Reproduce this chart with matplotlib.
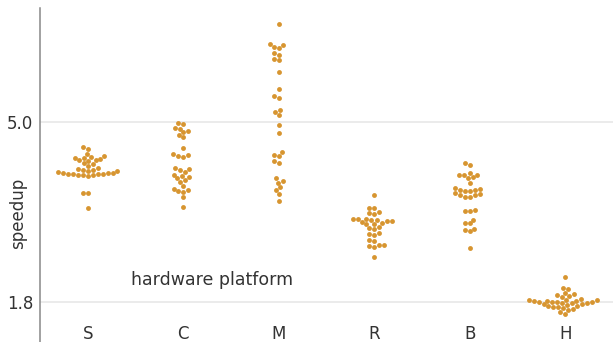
import matplotlib
matplotlib.use("Agg")
import matplotlib.pyplot as plt
import seaborn as sns
import pandas as pd

platforms = ["S", "C", "M", "R", "B", "H"]

speedup_S = [4.56, 4.52, 4.43, 4.40, 4.38, 4.36, 4.36, 4.34, 4.32, 4.32, 4.31,
             4.27, 4.25, 4.22, 4.18, 4.16, 4.15, 4.15, 4.13, 4.13, 4.11, 4.09,
             4.09, 4.09, 4.08, 4.08, 4.08, 4.08, 4.06, 4.06, 4.06, 4.04, 3.74,
             3.74, 3.47]
speedup_C = [4.98, 4.96, 4.89, 4.88, 4.84, 4.82, 4.77, 4.73, 4.54, 4.43, 4.41,
             4.40, 4.38, 4.18, 4.16, 4.15, 4.11, 4.06, 4.04, 4.02, 4.00, 3.97,
             3.93, 3.86, 3.81, 3.79, 3.77, 3.76, 3.67, 3.49]
speedup_M = [6.74, 6.39, 6.37, 6.33, 6.32, 6.23, 6.19, 6.12, 6.10, 5.89, 5.59,
             5.46, 5.43, 5.21, 5.18, 5.12, 4.95, 4.80, 4.47, 4.41, 4.40, 4.31,
             4.27, 4.00, 3.95, 3.92, 3.84, 3.79, 3.72, 3.60]
speedup_R = [3.70, 3.47, 3.47, 3.40, 3.38, 3.36, 3.28, 3.28, 3.28, 3.26, 3.26,
             3.24, 3.24, 3.22, 3.20, 3.19, 3.19, 3.13, 3.12, 3.10, 3.03, 3.01,
             2.99, 2.90, 2.88, 2.81, 2.81, 2.80, 2.78, 2.60]
speedup_B = [4.27, 4.24, 4.09, 4.06, 4.06, 4.06, 4.02, 4.00, 3.92, 3.83, 3.81,
             3.79, 3.79, 3.77, 3.77, 3.74, 3.72, 3.70, 3.70, 3.67, 3.67, 3.44,
             3.42, 3.42, 3.26, 3.20, 3.20, 3.10, 3.08, 3.06, 2.76]
speedup_H = [2.24, 2.05, 2.03, 1.96, 1.94, 1.92, 1.91, 1.89, 1.85, 1.84, 1.84,
             1.84, 1.82, 1.82, 1.82, 1.80, 1.80, 1.80, 1.80, 1.78, 1.78, 1.78,
             1.76, 1.76, 1.75, 1.73, 1.73, 1.71, 1.71, 1.69, 1.68, 1.66, 1.62,
             1.59]

y_ticks = [1.8, 5.0]
y_tick_labels = ["1.8", "5.0"]

series = [speedup_S, speedup_C, speedup_M, speedup_R, speedup_B, speedup_H]
df = pd.DataFrame({
    "platform": [p for p, vals in zip(platforms, series) for _ in vals],
    "speedup": [v for vals in series for v in vals],
})

text_color = "#333333"
dot_color = "#d79530"

fig = plt.figure(figsize=(6.13, 3.42), dpi=100)
ax = fig.add_axes([40 / 613, 0.0, 1 - 40 / 613, 334 / 342])

sns.swarmplot(data=df, x="platform", y="speedup", order=platforms,
              color=dot_color, size=3.5, linewidth=0, ax=ax)

ax.set_xlim(-0.5, 5.5)
ax.set_ylim(1.09, 7.03)

ax.set_yticks(y_ticks)
ax.set_yticklabels(y_tick_labels)
ax.grid(axis="y", color="#e6e6e6", linewidth=1.1)
ax.grid(axis="x", visible=False)
ax.set_axisbelow(True)

for side in ["top", "right", "bottom"]:
    ax.spines[side].set_visible(False)
ax.spines["left"].set_color("#888888")
ax.spines["left"].set_linewidth(1.1)

ax.tick_params(axis="y", length=0, pad=5, labelsize=12, labelcolor=text_color)
ax.tick_params(axis="x", length=0, pad=-12.5, labelsize=12, labelcolor=text_color)

ax.set_xlabel("hardware platform", fontsize=12.5, color=text_color)
ax.xaxis.set_label_coords((212 - 40) / 573.6, (342 - 280) / 334)
ax.xaxis.label.set_va("center")

ax.set_ylabel("speedup", fontsize=12, color=text_color)
ax.yaxis.set_label_coords((18 - 40) / 573.6, (342 - 213) / 334)
ax.yaxis.label.set_va("center")

fig.savefig("out.png", dpi=100)
